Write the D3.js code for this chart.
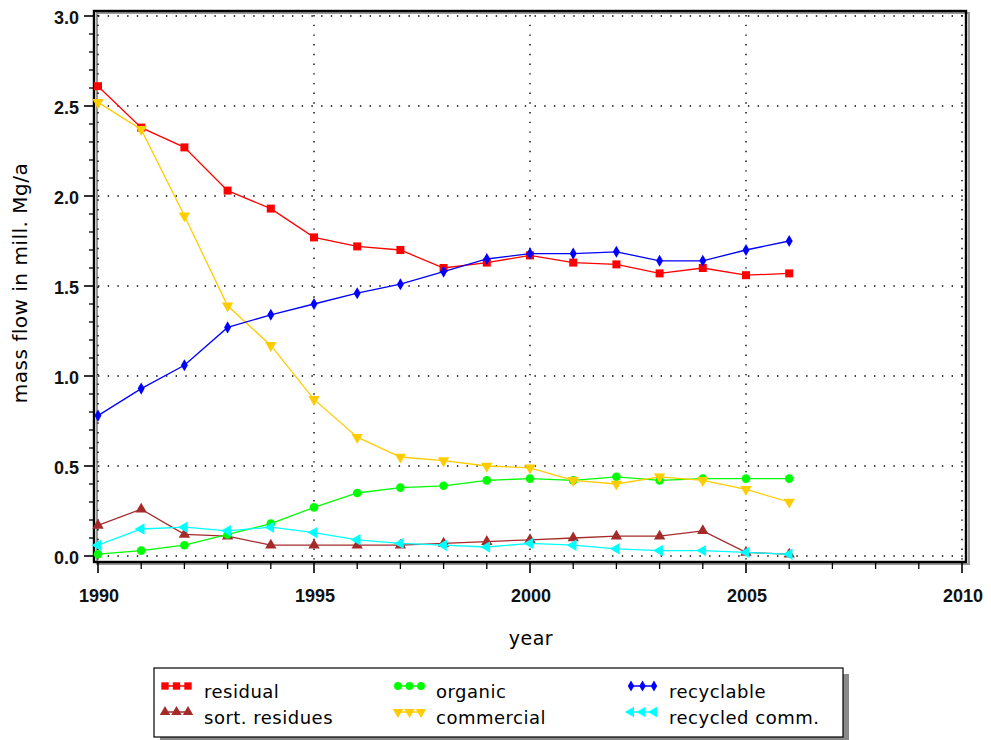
<!DOCTYPE html>
<html>
<head>
<meta charset="utf-8">
<script src="https://cdn.jsdelivr.net/npm/d3@7"></script>
<style>
  html, body { margin: 0; padding: 0; background: #fff; }
  svg { display: block; }
  .tick-label { font-family: "Liberation Sans", Arial, sans-serif; font-size: 18px; font-weight: bold; fill: #111; }
  .axis-title { font-family: "DejaVu Sans", sans-serif; fill: #000; letter-spacing: 0.5px; }
  .legend-text { font-family: "DejaVu Sans", sans-serif; font-size: 18px; fill: #000; letter-spacing: 0.5px; }
</style>
</head>
<body>
<svg id="chart" width="991" height="740"></svg>
<script>
// ---- data ----
const years = [1990,1991,1992,1993,1994,1995,1996,1997,1998,1999,2000,2001,2002,2003,2004,2005,2006];
const residual     = [2.61,2.38,2.27,2.03,1.93,1.77,1.72,1.70,1.60,1.63,1.67,1.63,1.62,1.57,1.60,1.56,1.57];
const sortResidues = [0.17,0.26,0.12,0.11,0.06,0.06,0.06,0.06,0.07,0.08,0.09,0.10,0.11,0.11,0.14,0.02,0.01];
const organic      = [0.01,0.03,0.06,0.12,0.18,0.27,0.35,0.38,0.39,0.42,0.43,0.42,0.44,0.42,0.43,0.43,0.43];
const commercial   = [2.52,2.37,1.89,1.39,1.17,0.87,0.66,0.55,0.53,0.50,0.49,0.42,0.40,0.44,0.42,0.37,0.30];
const recyclable   = [0.78,0.93,1.06,1.27,1.34,1.40,1.46,1.51,1.58,1.65,1.68,1.68,1.69,1.64,1.64,1.70,1.75];
const recycledComm = [0.06,0.15,0.16,0.14,0.16,0.13,0.09,0.07,0.06,0.05,0.07,0.06,0.04,0.03,0.03,0.02,0.01];

const seriesNames = ["residual","sort. residues","organic","commercial","recyclable","recycled comm."];
const xMajorTicks = [1990,1995,2000,2005,2010];
const xMinorTicks = [1991,1992,1993,1994,1996,1997,1998,1999,2001,2002,2003,2004,2006,2007,2008,2009];
const yMajorTicks = [0.0,0.5,1.0,1.5,2.0,2.5,3.0];
const yMinorTicks = [0.1,0.2,0.3,0.4,0.6,0.7,0.8,0.9,1.1,1.2,1.3,1.4,1.6,1.7,1.8,1.9,2.1,2.2,2.3,2.4,2.6,2.7,2.8,2.9];
const xTitle = "year";
const yTitle = "mass flow in mill. Mg/a";

// ---- styling (kept separate from data) ----
const styles = [
  {color:"#ff0000", shape:d3.symbolSquare,   size:64, rot:0},
  {color:"#a52a2a", shape:d3.symbolTriangle, size:56, rot:0},
  {color:"#00ff00", shape:d3.symbolCircle,   size:58, rot:0},
  {color:"#ffcc00", shape:d3.symbolTriangle, size:56, rot:180},
  {color:"#0000ff", shape:d3.symbolDiamond,  size:42, rot:0},
  {color:"#00ffff", shape:d3.symbolTriangle, size:56, rot:-90}
];
const seriesData = [residual, sortResidues, organic, commercial, recyclable, recycledComm];
const drawOrder = [0,1,2,3,4,5];

const svg = d3.select("#chart");
const frame = {left:94, right:966, top:11, bottom:562};
const x = d3.scaleLinear().domain([1990,2010]).range([98,962]);
const y = d3.scaleLinear().domain([0,3]).range([556,16]);

// frame shadow
svg.append("rect").attr("x",frame.left+3).attr("y",frame.top+2)
  .attr("width",frame.right-frame.left).attr("height",frame.bottom-frame.top)
  .attr("fill","none").attr("stroke","#999").attr("stroke-width",2);

// grid (dotted)
const grid = svg.append("g");
grid.selectAll("line.gx").data(xMajorTicks).join("line")
  .attr("x1",d=>x(d)).attr("x2",d=>x(d)).attr("y1",frame.top+4).attr("y2",frame.bottom-1)
  .attr("stroke","#000").attr("stroke-width",1.4).attr("stroke-dasharray","1.4,8.3");
grid.selectAll("line.gy").data(yMajorTicks).join("line")
  .attr("y1",d=>y(d)).attr("y2",d=>y(d)).attr("x1",frame.left+4).attr("x2",frame.right-1)
  .attr("stroke","#000").attr("stroke-width",1.4).attr("stroke-dasharray","1.4,8.3");

// frame
svg.append("rect").attr("x",frame.left).attr("y",frame.top)
  .attr("width",frame.right-frame.left).attr("height",frame.bottom-frame.top)
  .attr("fill","none").attr("stroke","#000").attr("stroke-width",2.4);

// y axis ticks
const yAxis = svg.append("g");
yAxis.selectAll("line.maj").data(yMajorTicks).join("line")
  .attr("x1",frame.left-10).attr("x2",frame.left).attr("y1",d=>y(d)).attr("y2",d=>y(d))
  .attr("stroke","#000").attr("stroke-width",1.6);
yAxis.selectAll("line.min").data(yMinorTicks).join("line")
  .attr("x1",frame.left-5).attr("x2",frame.left).attr("y1",d=>y(d)).attr("y2",d=>y(d))
  .attr("stroke","#000").attr("stroke-width",1.3);
yAxis.selectAll("text").data(yMajorTicks).join("text")
  .attr("class","tick-label").attr("x",frame.left-15).attr("y",d=>y(d)+8)
  .attr("text-anchor","end").text(d=>d3.format(".1f")(d));

// x axis ticks
const xAxis = svg.append("g");
xAxis.selectAll("line.maj").data(xMajorTicks).join("line")
  .attr("x1",d=>x(d)).attr("x2",d=>x(d)).attr("y1",frame.bottom).attr("y2",frame.bottom+11)
  .attr("stroke","#000").attr("stroke-width",1.6);
xAxis.selectAll("line.min").data(xMinorTicks).join("line")
  .attr("x1",d=>x(d)).attr("x2",d=>x(d)).attr("y1",frame.bottom).attr("y2",frame.bottom+7)
  .attr("stroke","#000").attr("stroke-width",1.3);
xAxis.selectAll("text").data(xMajorTicks).join("text")
  .attr("class","tick-label").attr("x",d=>x(d)+1).attr("y",602)
  .attr("text-anchor","middle").text(d=>d);

// axis titles
svg.append("text").attr("class","axis-title").attr("font-size",19)
  .attr("x",531).attr("y",645).attr("text-anchor","middle").text(xTitle);
svg.append("text").attr("class","axis-title").attr("font-size",20)
  .attr("transform","translate(27,283) rotate(-90)").attr("text-anchor","middle").text(yTitle);

// series
const line = d3.line().x((d,i)=>x(years[i])).y(d=>y(d));
const plot = svg.append("g");
drawOrder.forEach(si => {
  const st = styles[si], vals = seriesData[si];
  const g = plot.append("g");
  g.append("path").datum(vals).attr("d",line).attr("fill","none")
    .attr("stroke",st.color).attr("stroke-width",1.3);
  g.selectAll("path.m").data(vals).join("path").attr("class","m")
    .attr("d",d3.symbol().type(st.shape).size(st.size))
    .attr("transform",(d,i)=>`translate(${x(years[i])},${y(d)}) rotate(${st.rot})`)
    .attr("fill",st.color);
});

// legend
const lg = svg.append("g");
const box = {x:154, y:668, w:689, h:69};
lg.append("rect").attr("x",box.x+6).attr("y",box.y+6).attr("width",box.w).attr("height",box.h).attr("fill","#8a8a8a");
lg.append("rect").attr("x",box.x).attr("y",box.y).attr("width",box.w).attr("height",box.h)
  .attr("fill","#fff").attr("stroke","#000").attr("stroke-width",1.2);
const colX = [165, 398, 631];
const textX = [204, 436, 669];
const rowY = [686, 712];
const rowTextY = [698, 724];
seriesNames.forEach((name,si) => {
  const col = Math.floor(si/2), row = si%2;
  const st = styles[si];
  const g = lg.append("g");
  g.append("line").attr("x1",colX[col]).attr("x2",colX[col]+23).attr("y1",rowY[row]).attr("y2",rowY[row])
    .attr("stroke",st.color).attr("stroke-width",1.5);
  [0,11.5,23].forEach(off => {
    g.append("path").attr("d",d3.symbol().type(st.shape).size(st.size*0.85))
      .attr("transform",`translate(${colX[col]+off},${rowY[row]}) rotate(${st.rot})`)
      .attr("fill",st.color);
  });
  g.append("text").attr("class","legend-text").attr("x",textX[col]).attr("y",rowTextY[row]).text(name);
});
</script>
</body>
</html>
